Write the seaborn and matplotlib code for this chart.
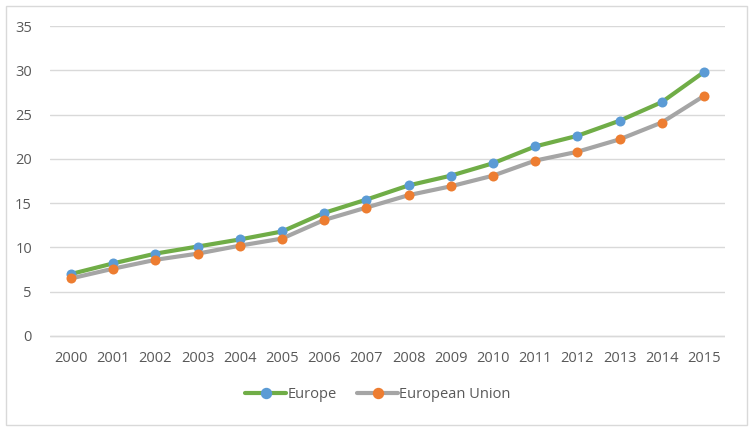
import matplotlib
matplotlib.use("Agg")
import matplotlib.pyplot as plt
import seaborn as sns
import pandas as pd
from matplotlib.lines import Line2D
from matplotlib.patches import Rectangle

years = ["2000", "2001", "2002", "2003", "2004", "2005", "2006", "2007",
         "2008", "2009", "2010", "2011", "2012", "2013", "2014", "2015"]
europe = [7.0, 8.2, 9.3, 10.1, 10.9, 11.8, 13.9, 15.4,
          17.0, 18.1, 19.5, 21.4, 22.6, 24.3, 26.4, 29.8]
eu = [6.5, 7.6, 8.6, 9.3, 10.2, 11.0, 13.1, 14.5,
      15.9, 16.9, 18.1, 19.8, 20.8, 22.2, 24.1, 27.1]
series_names = ["Europe", "European Union"]
yticks = [0, 5, 10, 15, 20, 25, 30, 35]

line_colors = {"Europe": "#70AD47", "European Union": "#A5A5A5"}
marker_colors = {"Europe": "#5B9BD5", "European Union": "#ED7D31"}

df = pd.DataFrame({
    "year": years * 2,
    "value": europe + eu,
    "series": [series_names[0]] * len(years) + [series_names[1]] * len(years),
})

sns.set_style("white")
plt.rcParams["font.family"] = ["Open Sans", "DejaVu Sans"]

fig = plt.figure(figsize=(7.52, 4.30), dpi=100)
ax = fig.add_axes([50 / 752, 1 - 339 / 430, 675 / 752, 313 / 430])

sns.lineplot(data=df, x="year", y="value", hue="series", palette=line_colors,
             hue_order=series_names, sort=False, linewidth=3.0, marker="o",
             markersize=7.2, markeredgewidth=0, ax=ax, legend=False)

for ln, name in zip(ax.lines, series_names):
    ln.set_markerfacecolor(marker_colors[name])
    ln.set_markeredgecolor(marker_colors[name])
    ln.set_solid_capstyle("round")

ax.set_xlim(-0.5, len(years) - 0.5)
ax.set_ylim(-0.34, 35)
ax.set_yticks(yticks)
ax.set_xlabel("")
ax.set_ylabel("")
ax.grid(axis="y", color="#D9D9D9", linewidth=1.0)
ax.grid(axis="x", visible=False)
ax.axhline(yticks[0], color="#D9D9D9", linewidth=1.0, zorder=0.6)
ax.set_axisbelow(True)
for s in ax.spines.values():
    s.set_visible(False)
ax.tick_params(axis="both", length=0, labelsize=10.5, colors="#595959")
ax.tick_params(axis="x", pad=9)
ax.tick_params(axis="y", pad=13)

handles = [Line2D([0], [0], color=line_colors[n], linewidth=3.0, marker="o",
                  markersize=7.2, markerfacecolor=marker_colors[n],
                  markeredgecolor=marker_colors[n]) for n in series_names]
fig.legend(handles, series_names, loc="center", bbox_to_anchor=(378 / 752, 1 - 395 / 430),
           ncol=2, frameon=False, fontsize=10.5, labelcolor="#595959",
           handlelength=2.8, handletextpad=0.1, columnspacing=1.4)

fig.patches.append(Rectangle((6 / 752, 5 / 430), 741 / 752, 419 / 430,
                             transform=fig.transFigure, fill=False,
                             edgecolor="#D9D9D9", linewidth=1.0))

fig.savefig("out.png", dpi=100)
